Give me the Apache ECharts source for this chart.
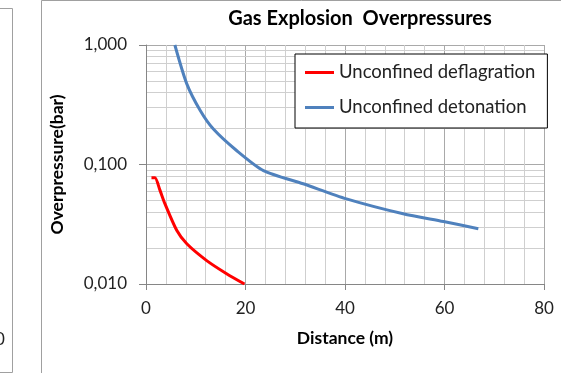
<!DOCTYPE html>
<html><head><meta charset="utf-8">
<script src="https://cdn.jsdelivr.net/npm/echarts@6/dist/echarts.min.js"></script>
<style>html,body{margin:0;padding:0;background:#fff}#c{width:561px;height:373px}</style>
</head><body><div id="c"></div>
<script>
const title = "Gas Explosion  Overpressures";
const xName = "Distance (m)";
const yName = "Overpressure(bar)";
const deflagName = "Unconfined deflagration";
const detonName = "Unconfined detonation";
const deflagX = [1.1, 1.8, 2.8, 3.8, 6.2, 8.2, 12.2, 16.2, 19.8];
const deflagY = [0.0775, 0.0775, 0.061, 0.047, 0.028, 0.0217, 0.0157, 0.0122, 0.0100];
const detonX = [5.8, 8.2, 10.9, 13.5, 18.2, 23.6, 31.6, 40.3, 51.7, 59.8, 66.8];
const detonY = [1.0, 0.473, 0.283, 0.199, 0.131, 0.089, 0.069, 0.0516, 0.0387, 0.0333, 0.029];
const minorY = [0.02,0.03,0.04,0.05,0.06,0.07,0.08,0.09,0.2,0.3,0.4,0.5,0.6,0.7,0.8,0.9];

const font = "Lato";
const chart = echarts.init(document.getElementById('c'), null, {renderer:'canvas'});
chart.setOption({
  animation:false,
  backgroundColor:'#fff',
  title:{text:title, left:355, textAlign:'center', top:4,
    textStyle:{fontFamily:font, fontWeight:'bold', fontSize:20, color:'#000'}},
  grid:{left:146, right:17, top:45, bottom:89},
  legend:{orient:'vertical', left:295, top:54, z:20, zlevel:1,
    padding:[9,12,11,10], itemGap:16, itemWidth:29, itemHeight:3,
    borderColor:'#000', borderWidth:1, backgroundColor:'#fff',
    icon:'rect',
    textStyle:{fontFamily:font, fontSize:18.5, color:'#222'},
    data:[deflagName, detonName]},
  xAxis:{type:'value', min:0, max:80, interval:20,
    name:xName, nameLocation:'middle', nameGap:45,
    nameTextStyle:{fontFamily:font, fontWeight:'bold', fontSize:17.5, color:'#000'},
    axisLine:{lineStyle:{color:'#868686'}},
    axisTick:{show:true, length:6, lineStyle:{color:'#868686'}},
    axisLabel:{fontFamily:font, fontSize:17, color:'#222', margin:16},
    splitLine:{show:true, lineStyle:{color:'#a9a9a9', width:1}},
    minorTick:{show:false, splitNumber:5},
    minorSplitLine:{show:true, lineStyle:{color:'#cfcfcf', width:1}}},
  yAxis:{type:'log', logBase:10, min:0.01, max:1,
    name:yName, nameLocation:'middle', nameGap:80,
    nameTextStyle:{fontFamily:font, fontWeight:'bold', fontSize:17.5, color:'#000'},
    axisLine:{show:true, lineStyle:{color:'#868686'}},
    axisTick:{show:true, length:7, lineStyle:{color:'#868686'}},
    axisLabel:{fontFamily:font, fontSize:17, color:'#222', margin:19,
      formatter:v=>v.toFixed(3).replace('.',',')},
    splitLine:{show:true, lineStyle:{color:'#a9a9a9', width:1}}},
  series:[
    {name:'grid', type:'line', data:[], silent:true, z:0,
      markLine:{silent:true, z:0, symbol:['none','none'], label:{show:false},
        lineStyle:{color:'#cfcfcf', type:'solid', width:1},
        data:minorY.map(v=>({yAxis:v}))}},
    {name:deflagName, type:'line', showSymbol:false, smooth:0.25, z:5,
      data:deflagX.map((x,i)=>[x,deflagY[i]]),
      lineStyle:{color:'#ff0000', width:3}, itemStyle:{color:'#ff0000'}},
    {name:detonName, type:'line', showSymbol:false, smooth:0.25, z:5,
      data:detonX.map((x,i)=>[x,detonY[i]]),
      lineStyle:{color:'#4f81bd', width:3}, itemStyle:{color:'#4f81bd'}}
  ],
  graphic:[
    {type:'polyline', silent:true, shape:{points:[[0,8.5],[12.5,8.5],[12.5,372.5],[0,372.5]]},
      style:{stroke:'#a0a0a0', fill:null, lineWidth:1}},
    {type:'polyline', silent:true, shape:{points:[[41.5,373],[41.5,0.5],[561,0.5]]},
      style:{stroke:'#a0a0a0', fill:null, lineWidth:1}},
    {type:'text', silent:true, left:-5, top:331,
      style:{text:'0', fontFamily:font, fontSize:17, fill:'#222'}}
  ]
});
</script></body></html>
